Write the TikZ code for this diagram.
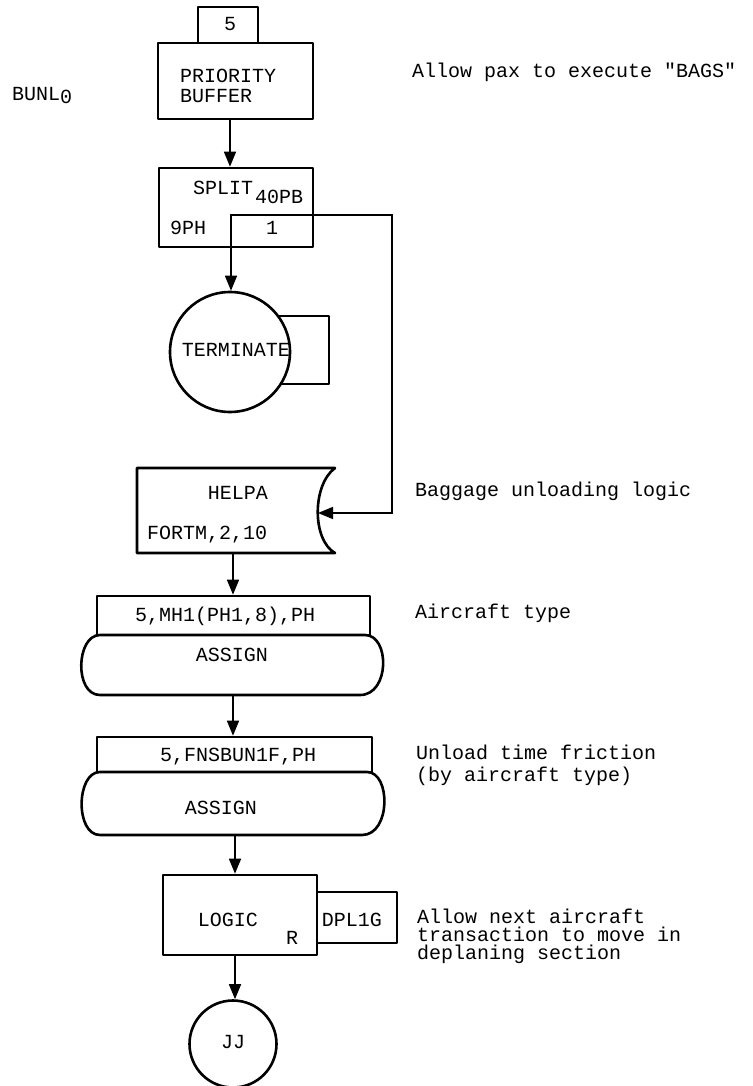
\documentclass[tikz,border=0pt]{standalone}
\usepackage{fontspec}
\setmonofont{Liberation Mono}
\usetikzlibrary{arrows.meta}
\begin{document}
\begin{tikzpicture}[x=1pt,y=-1pt,
  font=\ttfamily\fontsize{20}{20}\selectfont,
  blk/.style={draw, line width=2.6pt, line join=round},
  box/.style={blk, rectangle, inner sep=0pt},
  conn/.style={line width=1.6pt, -{Triangle[length=15pt,width=12pt]}},
  lnk/.style={line width=1.4pt},
  tx/.style={inner sep=0pt}]
\useasboundingbox[fill=white] (0,0) rectangle (752,1086);

% ---- boxes
\node[box, minimum width=60pt, minimum height=36pt] (b5) at (228,25) {};
\node[box, minimum width=155pt, minimum height=76pt] (pb) at (235.5,81) {};
\node[box, minimum width=154pt, minimum height=79pt] (split) at (236,207.5) {};
\node[box, minimum width=57pt, minimum height=68pt] (termbox) at (300.5,350) {};
\node[blk, circle, fill=white, minimum size=120pt, inner sep=0pt] (term) at (230,352) {};

\draw[blk] (137,468) -- (335,468) .. controls (312,485) and (312,540) .. (335,553) -- (137,553) -- cycle;
\coordinate (helpaIn) at (318,513);
\coordinate (helpaOut) at (233,553);

\node[box, minimum width=273pt, minimum height=39pt] (mh1) at (233.5,615.5) {};
\draw[blk] (100,635) -- (365,635) .. controls (390,635) and (390,695) .. (360,695) -- (100,695) .. controls (74,695) and (76,635) .. (100,635) -- cycle;
\coordinate (as1out) at (233,695);

\node[box, minimum width=275pt, minimum height=35pt] (mh2) at (234.5,754.5) {};
\draw[blk] (100,772) -- (367,772) .. controls (391,772) and (391,835) .. (362,835) -- (100,835) .. controls (75,835) and (76,772) .. (100,772) -- cycle;
\coordinate (as2out) at (235,835);

\node[box, minimum width=80pt, minimum height=51pt] (dpl) at (357,917.5) {};
\node[box, minimum width=154pt, minimum height=80pt] (logic) at (240,915) {};
\node[blk, circle, minimum size=87pt, inner sep=0pt] (jj) at (233,1044) {};

% ---- connectors
\draw[conn] (pb.south -| 230,0) -- (split.north -| 230,0);
\coordinate (splitIn) at (231,215);
\coordinate (corner1) at (392,215);
\coordinate (corner2) at (392,513);
\draw[lnk] (split.south -| splitIn) -- (splitIn) -- (split.east |- splitIn);
\draw[conn] (split.south -| splitIn) -- (term.north -| splitIn);
\draw[conn] (split.east |- splitIn) -- (corner1) -- (corner2) -- (helpaIn);
\draw[conn] (helpaOut) -- (mh1.north -| helpaOut);
\draw[conn] (as1out) -- (mh2.north -| as1out);
\draw[conn] (as2out) -- (logic.north -| as2out);
\draw[conn] (logic.south -| as2out) -- (jj.north -| as2out);

% ---- texts in shapes
\node[tx, anchor=base] (t5) at (230,31) {5};
\node[tx, anchor=base west] (tpri) at (180,83) {PRIORITY};
\node[tx, anchor=base west] (tbuf) at (180,103) {BUFFER};
\node[tx, anchor=base west] (tsplit) at (193,194) {SPLIT};
\node[tx, anchor=base west] (t40) at (255,204) {40PB};
\node[tx, anchor=base west] (t9ph) at (170,234) {9PH};
\node[tx, anchor=base] (t1) at (272,234) {1};
\node[tx, anchor=base] (tterm) at (236,356) {TERMINATE};
\node[tx, anchor=base] (thelpa) at (238,499) {HELPA};
\node[tx, anchor=base west] (tfortm) at (147,539) {FORTM,2,10};
\node[tx, anchor=base west] (tmh1) at (135,621) {5,MH1(PH1,8),PH};
\node[tx, anchor=base] (tas1) at (232,661) {ASSIGN};
\node[tx, anchor=base west] (tmh2) at (160,761) {5,FNSBUN1F,PH};
\node[tx, anchor=base] (tas2) at (221,814) {ASSIGN};
\node[tx, anchor=base] (tlogic) at (228,926) {LOGIC};
\node[tx, anchor=base] (tr) at (292,944) {R};
\node[tx, anchor=base] (tdpl) at (352,926) {DPL1G};
\node[tx, anchor=base] (tjj) at (233,1048) {JJ};

% ---- annotations
\node[tx, anchor=base west] (bunl) at (12,101) {BUNL\raisebox{-3pt}{0}};
\node[tx, anchor=base west] (n1) at (412,78) {Allow pax to execute "BAGS"};
\node[tx, anchor=base west] (n2) at (415,496) {Baggage unloading logic};
\node[tx, anchor=base west] (n3) at (415,618) {Aircraft type};
\node[tx, anchor=base west] (n4a) at (416,759) {Unload time friction};
\node[tx, anchor=base west] (n4b) at (416,781) {(by aircraft type)};
\node[tx, anchor=base west] (n5a) at (417,923) {Allow next aircraft};
\node[tx, anchor=base west] (n5b) at (417,941) {transaction to move in};
\node[tx, anchor=base west] (n5c) at (417,959) {deplaning section};
\end{tikzpicture}
\end{document}
